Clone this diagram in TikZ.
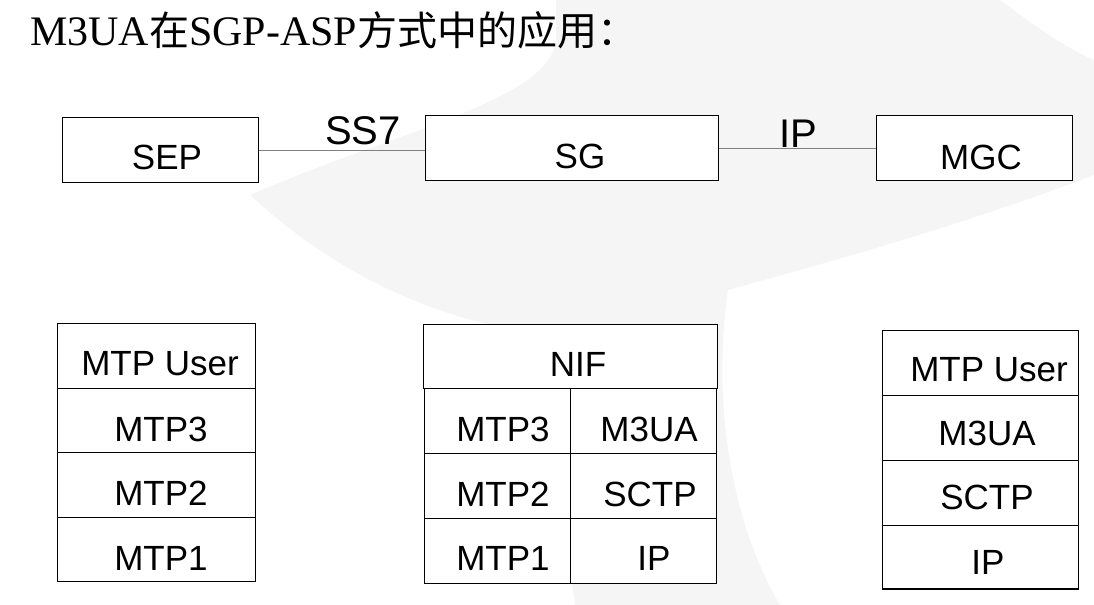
\documentclass[tikz,border=0pt]{standalone}
\usepackage{fontspec}
\setmainfont{Liberation Sans}
\newfontfamily\titlefont{Liberation Serif}
\newfontfamily\cjkfont{Noto Sans CJK SC}
\begin{document}
\begin{tikzpicture}[x=0.75pt,y=-0.75pt,
  box/.style={draw, fill=white, line width=1pt, inner sep=0pt, anchor=north west},
  lbl/.style={anchor=base, inner sep=0pt, font=\fontsize{26.25pt}{30pt}\selectfont},
  biglbl/.style={anchor=base, inner sep=0pt, font=\fontsize{30pt}{34pt}\selectfont},
  conn/.style={draw=black!50, line width=0.9pt},
  wm/.style={fill=black!4, draw=none}]
\useasboundingbox (0,0) rectangle (1094,605);
% faint background watermark
\path[wm] (250,195) .. controls (400,130) and (550,100) .. (556,40) -- (556,0) -- (1000,0)
  .. controls (1040,30) and (1070,50) .. (1094,60) -- (1094,175)
  .. controls (950,230) and (800,270) .. (728,290)
  .. controls (712,400) and (730,520) .. (780,605) -- (575,605)
  .. controls (560,500) and (548,400) .. (548,335)
  .. controls (420,320) and (320,260) .. (250,195) -- cycle;
% title
\node[anchor=base west, inner sep=0pt] (title) at (30,46)
  {\fontsize{31.5pt}{36pt}\selectfont\titlefont M3UA{\cjkfont\fontsize{30pt}{36pt}\selectfont 在}SGP-ASP{\cjkfont\fontsize{30pt}{36pt}\selectfont 方式中的应用：}};
% top row
\node[box, minimum width=147pt, minimum height=48.75pt] (sep) at (62,117) {};
\node[box, minimum width=219.75pt, minimum height=48.75pt] (sg) at (425,115) {};
\node[box, minimum width=147pt, minimum height=48.75pt] (mgc) at (876,115) {};
\draw[conn] (sep.east) -- (sep.east -| sg.west);
\draw[conn] (sg.east) -- (sg.east -| mgc.west);
\node[lbl] (tsep) at (167,170) {SEP};
\node[lbl] (tsg) at (580,169) {SG};
\node[lbl] (tmgc) at (981,170) {MGC};
\node[biglbl] (ss7) at (363,145) {SS7};
\node[biglbl] (ipl) at (798,148) {IP};
% left stack
\node[box, minimum width=148.5pt, minimum height=48.4pt] (l1) at (57,323) {};
\node[box, minimum width=148.5pt, minimum height=48.4pt] (l2) at (57,387.5) {};
\node[box, minimum width=148.5pt, minimum height=48.4pt] (l3) at (57,452) {};
\node[box, minimum width=148.5pt, minimum height=48.4pt] (l4) at (57,516.5) {};
\node[lbl] (tl1) at (160,375) {MTP User};
\node[lbl] (tl2) at (161,441) {MTP3};
\node[lbl] (tl3) at (161,505) {MTP2};
\node[lbl] (tl4) at (161,570) {MTP1};
% middle stack
\node[box, minimum width=220.5pt, minimum height=48pt] (nif) at (423,324) {};
\node[box, minimum width=109.5pt, minimum height=48.75pt] (m1a) at (424,388) {};
\node[box, minimum width=109.5pt, minimum height=48.75pt] (m1b) at (570,388) {};
\node[box, minimum width=109.5pt, minimum height=48.75pt] (m2a) at (424,453) {};
\node[box, minimum width=109.5pt, minimum height=48.75pt] (m2b) at (570,453) {};
\node[box, minimum width=109.5pt, minimum height=48.75pt] (m3a) at (424,518) {};
\node[box, minimum width=109.5pt, minimum height=48.75pt] (m3b) at (570,518) {};
\node[lbl] (tnif) at (578,377) {NIF};
\node[lbl] (tm1a) at (503,441) {MTP3};
\node[lbl] (tm1b) at (649,441) {M3UA};
\node[lbl] (tm2a) at (503,506) {MTP2};
\node[lbl] (tm2b) at (650,506) {SCTP};
\node[lbl] (tm3a) at (503,570) {MTP1};
\node[lbl] (tm3b) at (654,570) {IP};
% right stack
\node[box, minimum width=147pt, minimum height=48.75pt] (r1) at (882,330) {};
\node[box, minimum width=147pt, minimum height=48.75pt] (r2) at (882,395) {};
\node[box, minimum width=147pt, minimum height=48.75pt] (r3) at (882,460) {};
\node[box, minimum width=147pt, minimum height=47.5pt] (r4) at (882,525) {};
\node[lbl] (tr1) at (989,382) {MTP User};
\node[lbl] (tr2) at (987,445) {M3UA};
\node[lbl] (tr3) at (987,509) {SCTP};
\node[lbl] (tr4) at (988,574) {IP};
\end{tikzpicture}
\end{document}
